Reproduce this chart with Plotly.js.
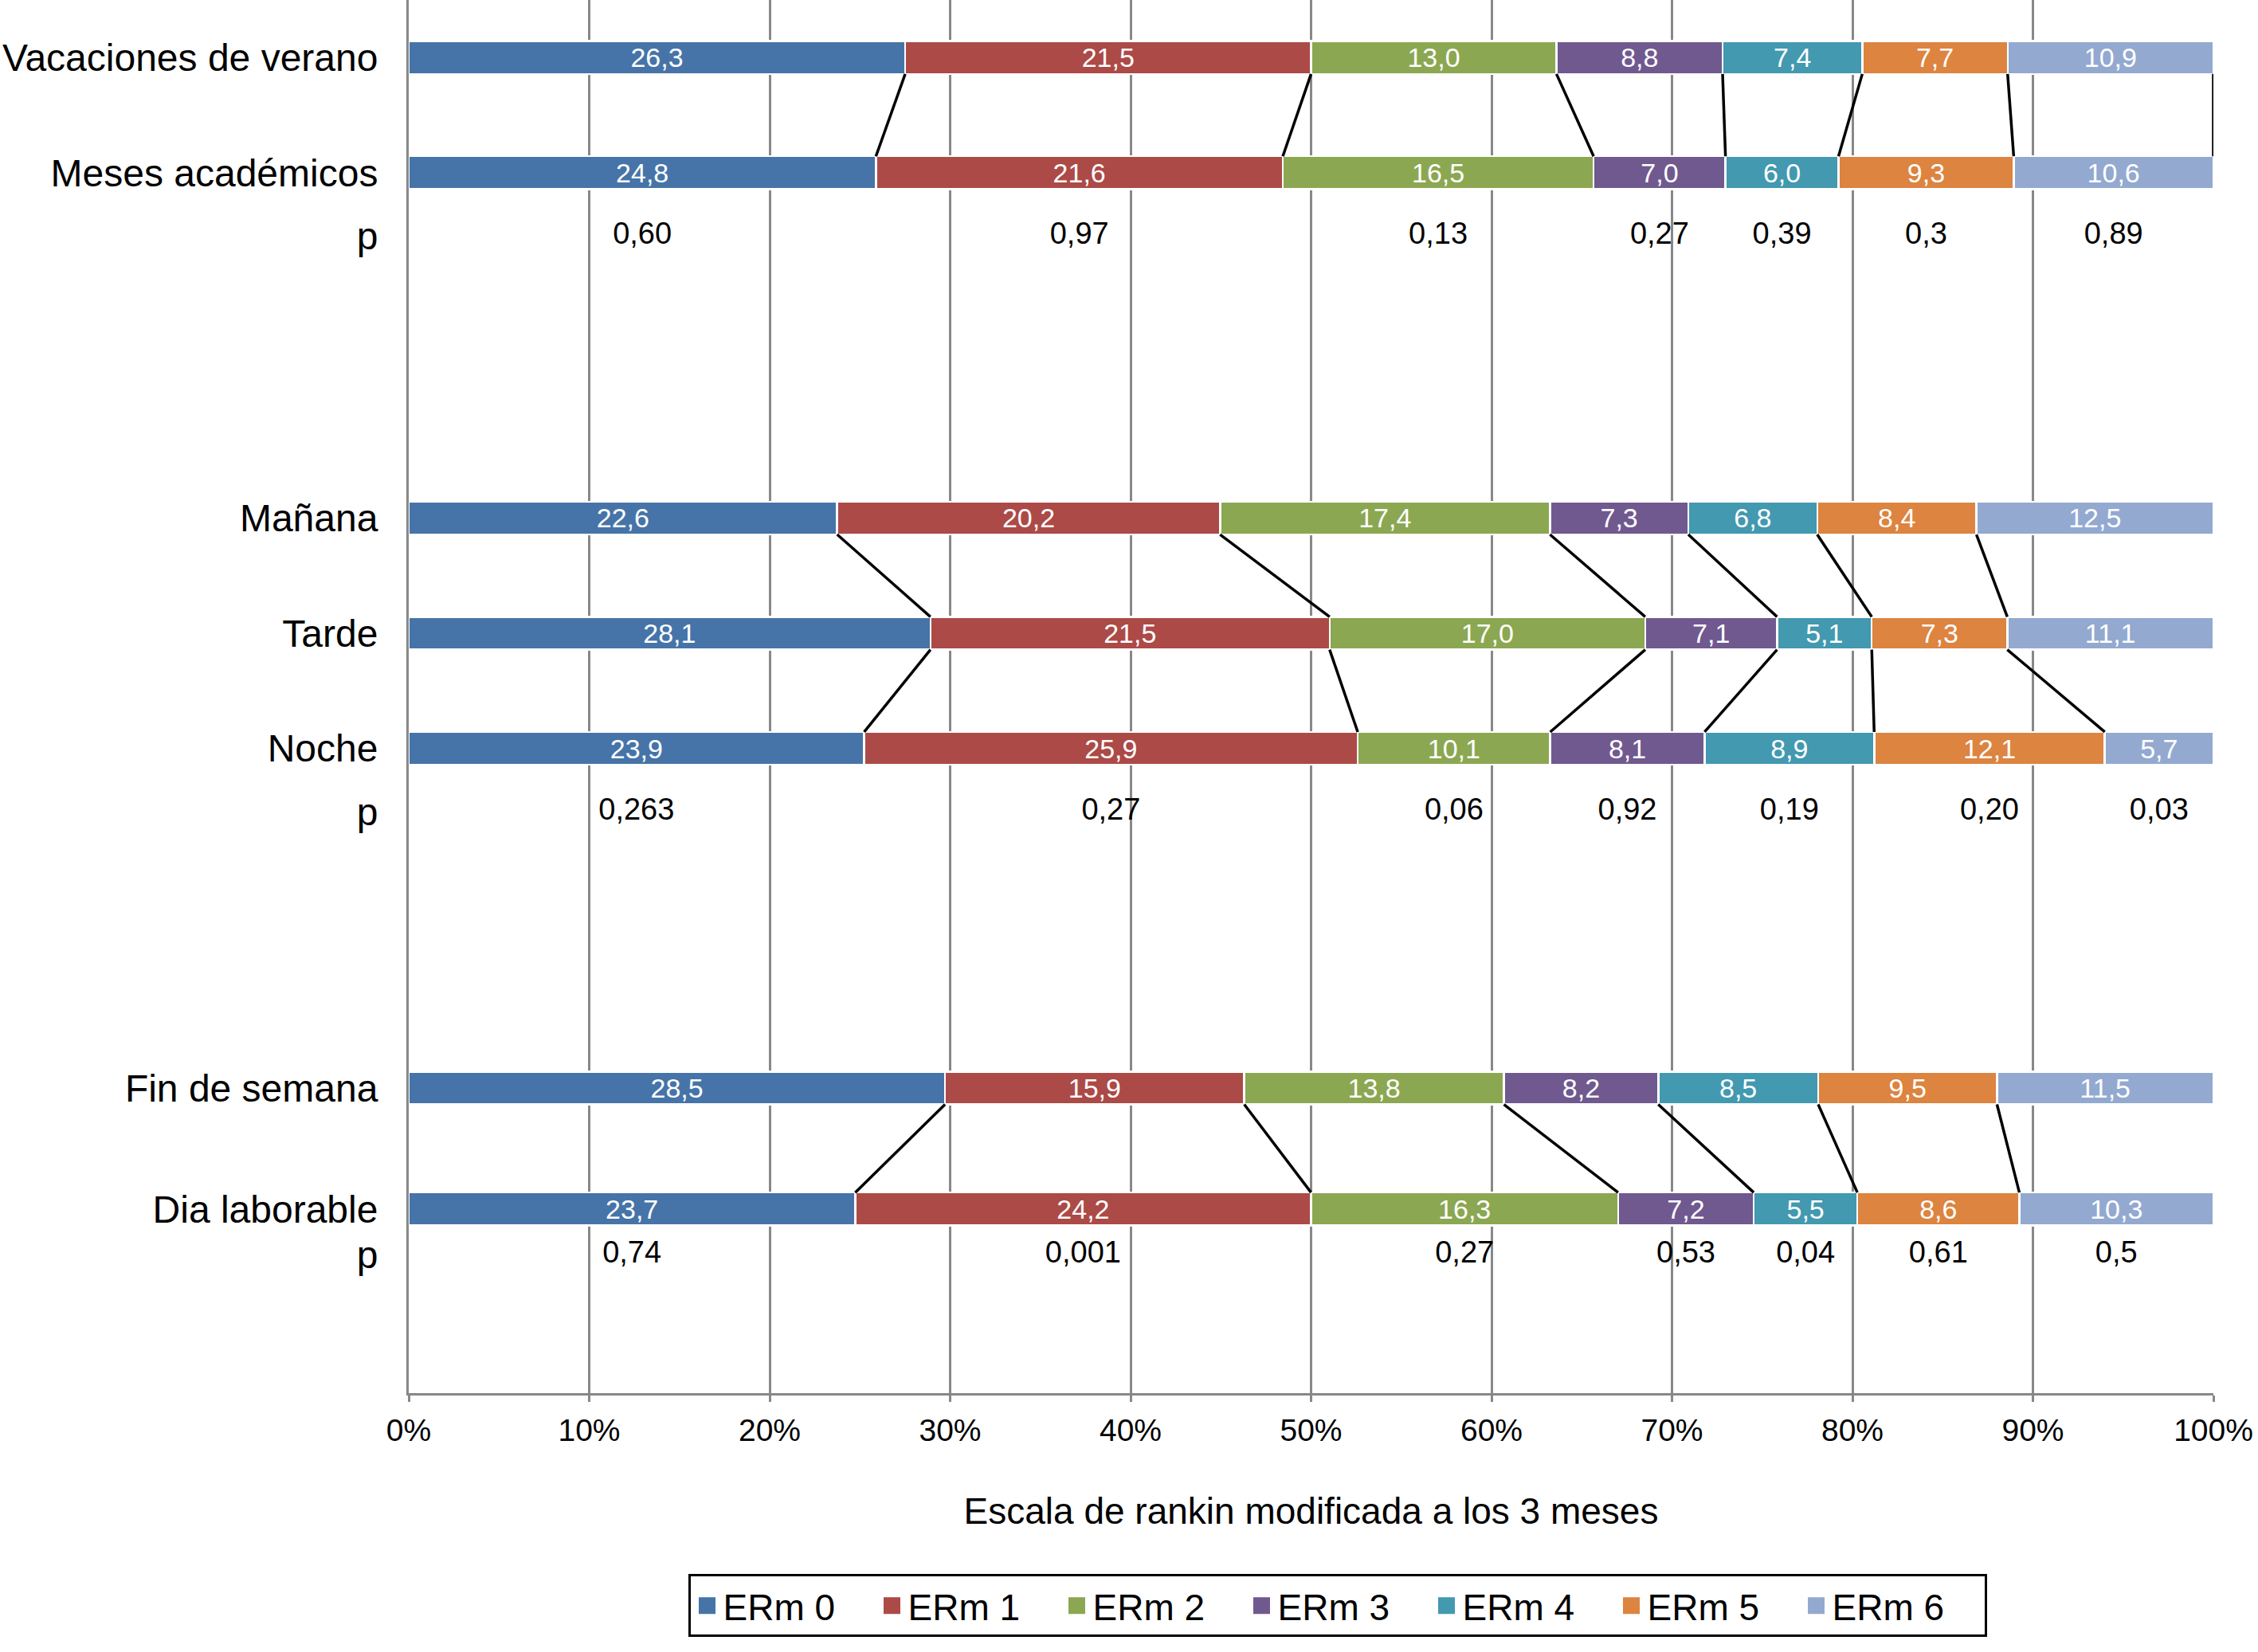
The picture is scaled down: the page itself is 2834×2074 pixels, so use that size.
<!DOCTYPE html>
<html>
<head>
<meta charset="utf-8">
<script src="https://cdn.plot.ly/plotly-3.0.1.min.js"></script>
<style>
body { margin: 0; background: #fff; }
#chart { width: 2834px; height: 2074px; }
</style>
</head>
<body>
<div id="chart"></div>
<script>
let rows = ["Vacaciones de verano", "Meses académicos", "Mañana", "Tarde", "Noche", "Fin de semana", "Dia laborable"];
let erm0 = [26.3, 24.8, 22.6, 28.1, 23.9, 28.5, 23.7];
let erm1 = [21.5, 21.6, 20.2, 21.5, 25.9, 15.9, 24.2];
let erm2 = [13.0, 16.5, 17.4, 17.0, 10.1, 13.8, 16.3];
let erm3 = [8.8, 7.0, 7.3, 7.1, 8.1, 8.2, 7.2];
let erm4 = [7.4, 6.0, 6.8, 5.1, 8.9, 8.5, 5.5];
let erm5 = [7.7, 9.3, 8.4, 7.3, 12.1, 9.5, 8.6];
let erm6 = [10.9, 10.6, 12.5, 11.1, 5.7, 11.5, 10.3];
let series_names = ["ERm 0", "ERm 1", "ERm 2", "ERm 3", "ERm 4", "ERm 5", "ERm 6"];
let p_estacion = ["0,60", "0,97", "0,13", "0,27", "0,39", "0,3", "0,89"];
let p_horario = ["0,263", "0,27", "0,06", "0,92", "0,19", "0,20", "0,03"];
let p_semana = ["0,74", "0,001", "0,27", "0,53", "0,04", "0,61", "0,5"];
let x_ticks = [0, 10, 20, 30, 40, 50, 60, 70, 80, 90, 100];
let x_title = "Escala de rankin modificada a los 3 meses";

// colores y posiciones (solo estilo)
let colors = ["#4674a8", "#ac4a47", "#8ca752", "#70598f", "#4299b0", "#dc8440", "#93a9d0"];
let row_y = [0.5, 1.5, 4.5, 5.5, 6.5, 9.45, 10.5];
let p_y = [2.05, 7.05, 10.9];
let p_under = [1, 4, 6];          // fila de barras sobre cada fila de p
let links = [[0, 1, 7], [2, 3, 6], [3, 4, 6], [5, 6, 6]];   // [fila arriba, fila abajo, nº de fronteras]
let bar_w = 0.285;
let font = "Liberation Sans, Arial, Helvetica, sans-serif";

let series = [erm0, erm1, erm2, erm3, erm4, erm5, erm6];
let p_groups = [p_estacion, p_horario, p_semana];

function fmt(v) {
    return v.toFixed(1).replace(".", ",");
}

// fronteras acumuladas (en %) de cada fila
function bounds(r) {
    let total = 0;
    for (let k = 0; k < series.length; k++) total += series[k][r];
    let cum = 0, arr = [0];
    for (let k = 0; k < series.length; k++) {
        cum += series[k][r];
        arr.push(cum / total * 100);
    }
    return arr;
}

let data = [];
for (let k = 0; k < series.length; k++) {
    data.push({
        type: "bar",
        orientation: "h",
        name: series_names[k],
        x: series[k],
        y: row_y,
        width: bar_w,
        marker: { color: colors[k], line: { color: "#ffffff", width: 2.5 } },
        text: series[k].map(fmt),
        textposition: "inside",
        insidetextanchor: "middle",
        textangle: 0,
        constraintext: "none",
        textfont: { color: "#ffffff", size: 34, family: font },
        showlegend: false,
        hoverinfo: "skip"
    });
}

// lineas que unen las fronteras entre barras vecinas
let lx = [], ly = [];
for (let i = 0; i < links.length; i++) {
    let a = bounds(links[i][0]);
    let b = bounds(links[i][1]);
    for (let k = 1; k <= links[i][2]; k++) {
        lx.push(a[k], b[k], null);
        ly.push(row_y[links[i][0]] + bar_w / 2, row_y[links[i][1]] - bar_w / 2, null);
    }
}
data.push({
    type: "scatter", mode: "lines", x: lx, y: ly,
    line: { color: "#000000", width: 3.5 },
    showlegend: false, hoverinfo: "skip"
});

// valores p, centrados en cada segmento de la barra de encima
for (let g = 0; g < p_groups.length; g++) {
    let b = bounds(p_under[g]);
    let px = [];
    for (let k = 0; k < p_groups[g].length; k++) px.push((b[k] + b[k + 1]) / 2);
    data.push({
        type: "scatter", mode: "text", x: px, y: p_groups[g].map(() => p_y[g]),
        text: p_groups[g], textposition: "middle center",
        textfont: { color: "#000000", size: 38, family: font },
        showlegend: false, hoverinfo: "skip"
    });
}

// leyenda con cuadrados grandes
for (let k = 0; k < series.length; k++) {
    data.push({
        type: "scatter", mode: "markers", name: series_names[k], x: [null], y: [null],
        marker: { symbol: "square", size: 16, color: colors[k], line: { color: colors[k], width: 5 } },
        hoverinfo: "skip"
    });
}

let layout = {
    width: 2834,
    height: 2074,
    margin: { l: 513, r: 56, t: 0, b: 325 },
    paper_bgcolor: "#ffffff",
    plot_bgcolor: "#ffffff",
    font: { family: font, color: "#000000" },
    barmode: "stack",
    barnorm: "percent",
    uniformtext: { mode: "show", minsize: 34 },
    showlegend: true,
    legend: {
        orientation: "h",
        x: 0.515, xanchor: "center",
        y: -0.13, yanchor: "top",
        bordercolor: "#000000", borderwidth: 3,
        font: { size: 46, family: font },
        entrywidth: 187,
        traceorder: "normal"
    },
    xaxis: {
        range: [0, 100],
        tickvals: x_ticks,
        ticktext: x_ticks.map(v => v + "%"),
        showgrid: true, gridcolor: "#888888", gridwidth: 3,
        zeroline: false,
        showline: true, linecolor: "#888888", linewidth: 3,
        ticks: "outside", ticklen: 8, tickwidth: 3, tickcolor: "#888888",
        tickfont: { size: 39, family: font },
        ticklabelstandoff: 2,
        title: { text: x_title, font: { size: 46, family: font }, standoff: 66 }
    },
    yaxis: {
        range: [12.1, 0],
        tickvals: row_y.concat(p_y),
        ticktext: rows.concat(p_y.map(() => "p")),
        showgrid: false, zeroline: false,
        showline: true, linecolor: "#888888", linewidth: 3,
        ticks: "",
        tickfont: { size: 48, family: font },
        ticklabelstandoff: 26
    }
};

Plotly.newPlot("chart", data, layout, { displayModeBar: false, staticPlot: true });
</script>
</body>
</html>
